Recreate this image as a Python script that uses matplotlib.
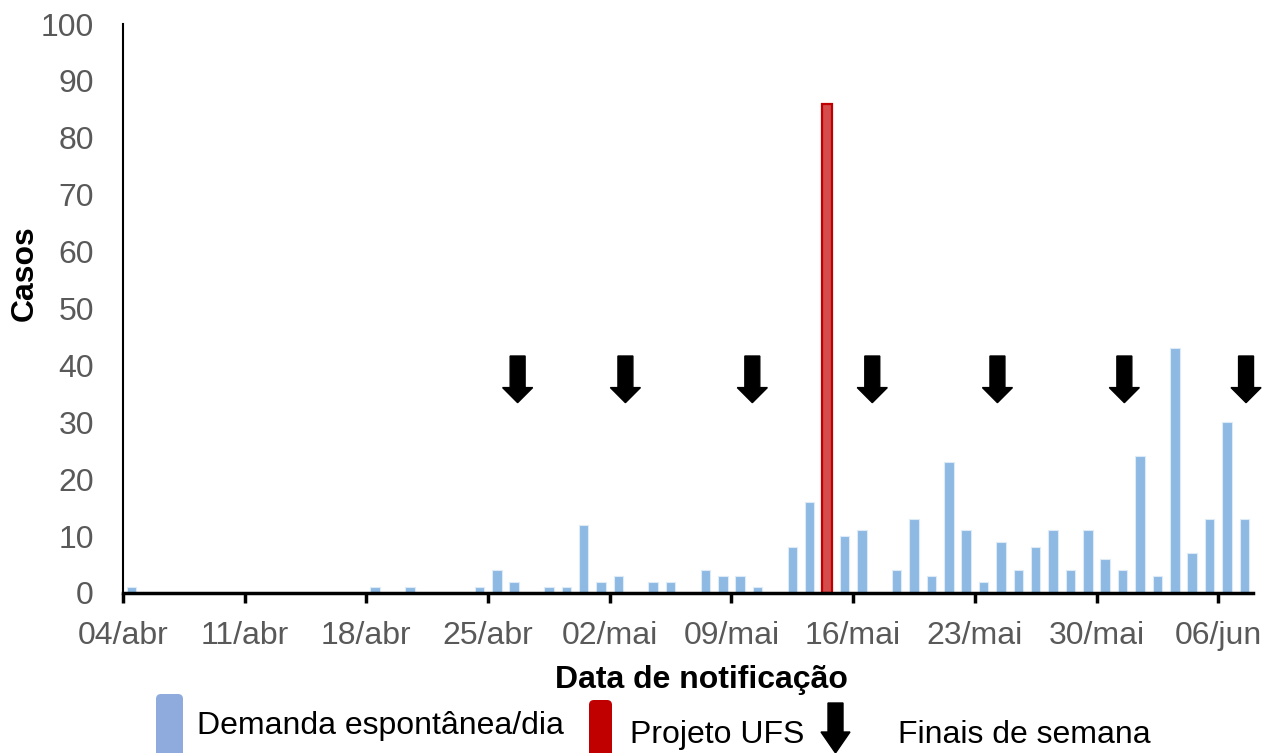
# Casos por data de notificação - demanda espontânea x Projeto UFS

import numpy as np
import matplotlib.pyplot as plt
from matplotlib.patches import FancyArrow, FancyBboxPatch
from matplotlib.transforms import IdentityTransform

plt.rcParams['font.family'] = ['Liberation Sans', 'DejaVu Sans']

# dados: um valor por dia, de 04/abr até 07/jun (65 dias)
demanda = [1, 0, 0, 0, 0, 0, 0, 0, 0, 0, 0, 0, 0, 0,
           1, 0, 1, 0, 0, 0, 1, 4, 2, 0, 1, 1, 12, 2,
           3, 0, 2, 2, 0, 4, 3, 3, 1, 0, 8, 16, 0, 10,
           11, 0, 4, 13, 3, 23, 11, 2, 9, 4, 8, 11, 4, 11,
           6, 4, 24, 3, 43, 7, 13, 30, 13]
ufs_dia = 40        # 14/mai
ufs_casos = 86
tick_labels = ['04/abr', '11/abr', '18/abr', '25/abr', '02/mai',
               '09/mai', '16/mai', '23/mai', '30/mai', '06/jun']
# posicao (em dias) das setas de finais de semana
fins_semana = [22.2, 28.4, 35.7, 42.6, 49.8, 57.1, 64.1]

W, H = 1274, 753
fig = plt.figure(figsize=(W / 100, H / 100), dpi=100)
ax = fig.add_axes([123 / W, 1 - 593 / H, 1130 / W, 569 / H])

x = np.arange(len(demanda))
ax.bar(x, demanda, width=0.55, color='#8DB9E3', edgecolor='#DDEBF7', linewidth=0.8)
ax.bar(ufs_dia, ufs_casos, width=0.55, color='#D44C4C', edgecolor='#C00000', linewidth=1.6)

for xp in fins_semana:
    ax.add_patch(FancyArrow(xp, 41.65, 0, -8.2, width=0.86, head_width=1.73,
                            head_length=2.65, length_includes_head=True,
                            color='black', clip_on=False))

ax.set_xlim(-0.5, len(demanda) - 0.5)
ax.set_ylim(0, 100)
ax.set_yticks(range(0, 101, 10))
ax.set_xticks(np.arange(0, len(demanda), 7)[:len(tick_labels)] - 0.5)
ax.set_xticklabels(tick_labels)
for s in ['top', 'right']:
    ax.spines[s].set_visible(False)
ax.spines['left'].set_linewidth(1.5)
ax.spines['bottom'].set_linewidth(2.5)
ax.tick_params(axis='y', length=0, pad=21, labelsize=23, labelcolor='#595959')
ax.tick_params(axis='x', length=7, width=2.5, pad=13, labelsize=23, labelcolor='#595959')

px = IdentityTransform()
fig.text(25, 480, 'Casos', rotation=90, ha='center', va='center',
         fontsize=23, fontweight='bold', transform=px)
fig.text(701, 65, 'Data de notificação', ha='center', va='baseline',
         fontsize=23, fontweight='bold', transform=px)

# legenda feita à mão
fig.add_artist(FancyBboxPatch((156, -10), 27, 69, boxstyle='round,pad=0,rounding_size=5',
                              facecolor='#8FAADC', edgecolor='none', transform=px))
fig.text(197, 19, 'Demanda espontânea/dia', fontsize=23, va='baseline', transform=px)
fig.add_artist(FancyBboxPatch((589, -10), 23, 63, boxstyle='round,pad=0,rounding_size=5',
                              facecolor='#C00000', edgecolor='none', transform=px))
fig.text(630, 10, 'Projeto UFS', fontsize=23, va='baseline', transform=px)
fig.add_artist(FancyArrow(835.5, 50, 0, -50, width=15, head_width=29, head_length=21,
                          length_includes_head=True, color='black', transform=px))
fig.text(898, 10, 'Finais de semana', fontsize=23, va='baseline', transform=px)

plt.savefig('out.png', dpi=100)
